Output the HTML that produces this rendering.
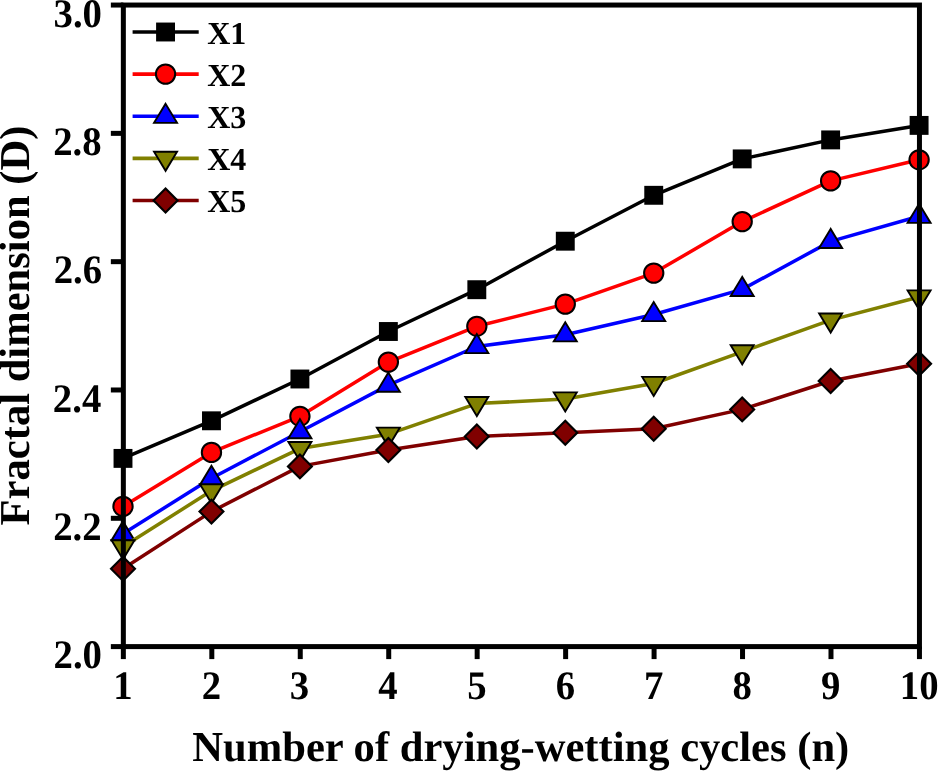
<!DOCTYPE html>
<html lang="en">
<head>
<meta charset="utf-8">
<title>Fractal dimension vs drying-wetting cycles</title>
<style>
html,body{margin:0;padding:0;background:#fff;}
body{width:938px;height:771px;overflow:hidden;}
svg{display:block;will-change:transform;}
svg text{font-family:"Liberation Serif",serif;font-weight:bold;fill:#000;text-rendering:geometricPrecision;}
.tick{font-size:40.6px;}
.lab{font-size:42.6px;}
.leg{font-size:32px;}
</style>
</head>
<body>
<svg width="938" height="771" viewBox="0 0 938 771">
<rect x="0" y="0" width="938" height="771" fill="#fff"/>
<g id="series">
<polyline points="123.00,458.40 211.46,420.80 299.91,379.00 388.37,331.50 476.82,289.70 565.28,241.20 653.73,195.30 742.19,158.90 830.64,139.90 919.10,125.40" fill="none" stroke="#000000" stroke-width="3.5" stroke-linejoin="round"/>
<rect x="113.55" y="448.95" width="18.9" height="18.9" fill="#000"/>
<rect x="202.01" y="411.35" width="18.9" height="18.9" fill="#000"/>
<rect x="290.46" y="369.55" width="18.9" height="18.9" fill="#000"/>
<rect x="378.92" y="322.05" width="18.9" height="18.9" fill="#000"/>
<rect x="467.37" y="280.25" width="18.9" height="18.9" fill="#000"/>
<rect x="555.83" y="231.75" width="18.9" height="18.9" fill="#000"/>
<rect x="644.28" y="185.85" width="18.9" height="18.9" fill="#000"/>
<rect x="732.74" y="149.45" width="18.9" height="18.9" fill="#000"/>
<rect x="821.19" y="130.45" width="18.9" height="18.9" fill="#000"/>
<rect x="909.65" y="115.95" width="18.9" height="18.9" fill="#000"/>
<polyline points="123.00,506.40 211.46,452.40 299.91,416.30 388.37,362.10 476.82,326.30 565.28,304.10 653.73,273.10 742.19,221.60 830.64,180.90 919.10,159.80" fill="none" stroke="#ff0000" stroke-width="3.5" stroke-linejoin="round"/>
<circle cx="123.00" cy="506.40" r="9.65" fill="#ff0000" stroke="#000" stroke-width="2.05"/>
<circle cx="211.46" cy="452.40" r="9.65" fill="#ff0000" stroke="#000" stroke-width="2.05"/>
<circle cx="299.91" cy="416.30" r="9.65" fill="#ff0000" stroke="#000" stroke-width="2.05"/>
<circle cx="388.37" cy="362.10" r="9.65" fill="#ff0000" stroke="#000" stroke-width="2.05"/>
<circle cx="476.82" cy="326.30" r="9.65" fill="#ff0000" stroke="#000" stroke-width="2.05"/>
<circle cx="565.28" cy="304.10" r="9.65" fill="#ff0000" stroke="#000" stroke-width="2.05"/>
<circle cx="653.73" cy="273.10" r="9.65" fill="#ff0000" stroke="#000" stroke-width="2.05"/>
<circle cx="742.19" cy="221.60" r="9.65" fill="#ff0000" stroke="#000" stroke-width="2.05"/>
<circle cx="830.64" cy="180.90" r="9.65" fill="#ff0000" stroke="#000" stroke-width="2.05"/>
<circle cx="919.10" cy="159.80" r="9.65" fill="#ff0000" stroke="#000" stroke-width="2.05"/>
<polyline points="123.00,533.80 211.46,478.30 299.91,431.70 388.37,385.10 476.82,346.50 565.28,334.80 653.73,314.50 742.19,289.40 830.64,241.40 919.10,216.30" fill="none" stroke="#0000ff" stroke-width="3.5" stroke-linejoin="round"/>
<polygon points="123.00,521.30 111.50,540.40 134.50,540.40" fill="#0000ff" stroke="#000" stroke-width="1.9" stroke-linejoin="miter"/>
<polygon points="211.46,465.80 199.96,484.90 222.96,484.90" fill="#0000ff" stroke="#000" stroke-width="1.9" stroke-linejoin="miter"/>
<polygon points="299.91,419.20 288.41,438.30 311.41,438.30" fill="#0000ff" stroke="#000" stroke-width="1.9" stroke-linejoin="miter"/>
<polygon points="388.37,372.60 376.87,391.70 399.87,391.70" fill="#0000ff" stroke="#000" stroke-width="1.9" stroke-linejoin="miter"/>
<polygon points="476.82,334.00 465.32,353.10 488.32,353.10" fill="#0000ff" stroke="#000" stroke-width="1.9" stroke-linejoin="miter"/>
<polygon points="565.28,322.30 553.78,341.40 576.78,341.40" fill="#0000ff" stroke="#000" stroke-width="1.9" stroke-linejoin="miter"/>
<polygon points="653.73,302.00 642.23,321.10 665.23,321.10" fill="#0000ff" stroke="#000" stroke-width="1.9" stroke-linejoin="miter"/>
<polygon points="742.19,276.90 730.69,296.00 753.69,296.00" fill="#0000ff" stroke="#000" stroke-width="1.9" stroke-linejoin="miter"/>
<polygon points="830.64,228.90 819.14,248.00 842.14,248.00" fill="#0000ff" stroke="#000" stroke-width="1.9" stroke-linejoin="miter"/>
<polygon points="919.10,203.80 907.60,222.90 930.60,222.90" fill="#0000ff" stroke="#000" stroke-width="1.9" stroke-linejoin="miter"/>
<polyline points="123.00,546.80 211.46,490.80 299.91,448.60 388.37,434.20 476.82,403.60 565.28,399.00 653.73,383.50 742.19,351.80 830.64,320.10 919.10,297.00" fill="none" stroke="#808000" stroke-width="3.5" stroke-linejoin="round"/>
<polygon points="123.00,559.30 111.50,540.20 134.50,540.20" fill="#808000" stroke="#000" stroke-width="1.9" stroke-linejoin="miter"/>
<polygon points="211.46,503.30 199.96,484.20 222.96,484.20" fill="#808000" stroke="#000" stroke-width="1.9" stroke-linejoin="miter"/>
<polygon points="299.91,461.10 288.41,442.00 311.41,442.00" fill="#808000" stroke="#000" stroke-width="1.9" stroke-linejoin="miter"/>
<polygon points="388.37,446.70 376.87,427.60 399.87,427.60" fill="#808000" stroke="#000" stroke-width="1.9" stroke-linejoin="miter"/>
<polygon points="476.82,416.10 465.32,397.00 488.32,397.00" fill="#808000" stroke="#000" stroke-width="1.9" stroke-linejoin="miter"/>
<polygon points="565.28,411.50 553.78,392.40 576.78,392.40" fill="#808000" stroke="#000" stroke-width="1.9" stroke-linejoin="miter"/>
<polygon points="653.73,396.00 642.23,376.90 665.23,376.90" fill="#808000" stroke="#000" stroke-width="1.9" stroke-linejoin="miter"/>
<polygon points="742.19,364.30 730.69,345.20 753.69,345.20" fill="#808000" stroke="#000" stroke-width="1.9" stroke-linejoin="miter"/>
<polygon points="830.64,332.60 819.14,313.50 842.14,313.50" fill="#808000" stroke="#000" stroke-width="1.9" stroke-linejoin="miter"/>
<polygon points="919.10,309.50 907.60,290.40 930.60,290.40" fill="#808000" stroke="#000" stroke-width="1.9" stroke-linejoin="miter"/>
<polyline points="123.00,568.70 211.46,511.60 299.91,466.40 388.37,450.00 476.82,436.50 565.28,432.70 653.73,428.80 742.19,409.40 830.64,381.00 919.10,363.70" fill="none" stroke="#800000" stroke-width="3.5" stroke-linejoin="round"/>
<polygon points="123.00,556.75 134.95,568.70 123.00,580.65 111.05,568.70" fill="#800000" stroke="#000" stroke-width="2.15" stroke-linejoin="miter"/>
<polygon points="211.46,499.65 223.41,511.60 211.46,523.55 199.51,511.60" fill="#800000" stroke="#000" stroke-width="2.15" stroke-linejoin="miter"/>
<polygon points="299.91,454.45 311.86,466.40 299.91,478.35 287.96,466.40" fill="#800000" stroke="#000" stroke-width="2.15" stroke-linejoin="miter"/>
<polygon points="388.37,438.05 400.32,450.00 388.37,461.95 376.42,450.00" fill="#800000" stroke="#000" stroke-width="2.15" stroke-linejoin="miter"/>
<polygon points="476.82,424.55 488.77,436.50 476.82,448.45 464.87,436.50" fill="#800000" stroke="#000" stroke-width="2.15" stroke-linejoin="miter"/>
<polygon points="565.28,420.75 577.23,432.70 565.28,444.65 553.33,432.70" fill="#800000" stroke="#000" stroke-width="2.15" stroke-linejoin="miter"/>
<polygon points="653.73,416.85 665.68,428.80 653.73,440.75 641.78,428.80" fill="#800000" stroke="#000" stroke-width="2.15" stroke-linejoin="miter"/>
<polygon points="742.19,397.45 754.14,409.40 742.19,421.35 730.24,409.40" fill="#800000" stroke="#000" stroke-width="2.15" stroke-linejoin="miter"/>
<polygon points="830.64,369.05 842.59,381.00 830.64,392.95 818.69,381.00" fill="#800000" stroke="#000" stroke-width="2.15" stroke-linejoin="miter"/>
<polygon points="919.10,351.75 931.05,363.70 919.10,375.65 907.15,363.70" fill="#800000" stroke="#000" stroke-width="2.15" stroke-linejoin="miter"/>
</g>
<g id="axes" stroke="#000" fill="none">
<rect x="123.35" y="5.05" width="796.10" height="641.55" stroke-width="5.0"/>
<line x1="110.85" y1="646.60" x2="123.35" y2="646.60" stroke-width="5"/>
<line x1="110.85" y1="518.29" x2="123.35" y2="518.29" stroke-width="5"/>
<line x1="110.85" y1="389.98" x2="123.35" y2="389.98" stroke-width="5"/>
<line x1="110.85" y1="261.67" x2="123.35" y2="261.67" stroke-width="5"/>
<line x1="110.85" y1="133.36" x2="123.35" y2="133.36" stroke-width="5"/>
<line x1="110.85" y1="5.05" x2="123.35" y2="5.05" stroke-width="5"/>
<line x1="123.35" y1="646.60" x2="123.35" y2="659.10" stroke-width="5"/>
<line x1="211.81" y1="646.60" x2="211.81" y2="659.10" stroke-width="5"/>
<line x1="300.26" y1="646.60" x2="300.26" y2="659.10" stroke-width="5"/>
<line x1="388.72" y1="646.60" x2="388.72" y2="659.10" stroke-width="5"/>
<line x1="477.17" y1="646.60" x2="477.17" y2="659.10" stroke-width="5"/>
<line x1="565.63" y1="646.60" x2="565.63" y2="659.10" stroke-width="5"/>
<line x1="654.08" y1="646.60" x2="654.08" y2="659.10" stroke-width="5"/>
<line x1="742.54" y1="646.60" x2="742.54" y2="659.10" stroke-width="5"/>
<line x1="830.99" y1="646.60" x2="830.99" y2="659.10" stroke-width="5"/>
<line x1="919.45" y1="646.60" x2="919.45" y2="659.10" stroke-width="5"/>
</g>
<g id="ticklabels" class="tick">
<text transform="translate(102.00 668) scale(0.955 1.0)" text-anchor="end">2.0</text>
<text transform="translate(101.60 540) scale(0.955 1.0)" text-anchor="end">2.2</text>
<text transform="translate(101.30 412) scale(0.955 1.0)" text-anchor="end">2.4</text>
<text transform="translate(102.15 283) scale(0.955 1.0)" text-anchor="end">2.6</text>
<text transform="translate(101.70 155) scale(0.955 1.0)" text-anchor="end">2.8</text>
<text transform="translate(102.00 27) scale(0.955 1.0)" text-anchor="end">3.0</text>
<text transform="translate(123.05 699) scale(0.955 1.0)" text-anchor="middle">1</text>
<text transform="translate(211.51 699) scale(0.955 1.0)" text-anchor="middle">2</text>
<text transform="translate(299.36 699) scale(0.955 1.0)" text-anchor="middle">3</text>
<text transform="translate(388.02 699) scale(0.955 1.0)" text-anchor="middle">4</text>
<text transform="translate(476.87 699) scale(0.955 1.0)" text-anchor="middle">5</text>
<text transform="translate(565.33 699) scale(0.955 1.0)" text-anchor="middle">6</text>
<text transform="translate(653.78 699) scale(0.955 1.0)" text-anchor="middle">7</text>
<text transform="translate(742.24 699) scale(0.955 1.0)" text-anchor="middle">8</text>
<text transform="translate(830.69 699) scale(0.955 1.0)" text-anchor="middle">9</text>
<text transform="translate(919.15 699) scale(0.955 1.0)" text-anchor="middle">10</text>
</g>
<text class="lab" x="520.8" y="760.8" text-anchor="middle">Number of drying-wetting cycles (n)</text>
<text class="lab" transform="translate(28.9 325.5) rotate(-90)" text-anchor="middle">Fractal dimension (D)</text>
<g id="legend">
<line x1="132.6" y1="32.00" x2="198.7" y2="32.00" stroke="#000000" stroke-width="3.6"/>
<rect x="156.10" y="22.55" width="18.9" height="18.9" fill="#000"/>
<text class="leg" x="207.2" y="43.90">X1</text>
<line x1="132.6" y1="74.12" x2="198.7" y2="74.12" stroke="#ff0000" stroke-width="3.6"/>
<circle cx="165.55" cy="74.12" r="9.65" fill="#ff0000" stroke="#000" stroke-width="2.05"/>
<text class="leg" x="207.2" y="86.02">X2</text>
<line x1="132.6" y1="116.24" x2="198.7" y2="116.24" stroke="#0000ff" stroke-width="3.6"/>
<polygon points="165.55,103.74 154.05,122.84 177.05,122.84" fill="#0000ff" stroke="#000" stroke-width="1.9" stroke-linejoin="miter"/>
<text class="leg" x="207.2" y="128.14">X3</text>
<line x1="132.6" y1="158.36" x2="198.7" y2="158.36" stroke="#808000" stroke-width="3.6"/>
<polygon points="165.55,170.86 154.05,151.76 177.05,151.76" fill="#808000" stroke="#000" stroke-width="1.9" stroke-linejoin="miter"/>
<text class="leg" x="207.2" y="170.26">X4</text>
<line x1="132.6" y1="200.48" x2="198.7" y2="200.48" stroke="#800000" stroke-width="3.6"/>
<polygon points="165.55,188.53 177.50,200.48 165.55,212.43 153.60,200.48" fill="#800000" stroke="#000" stroke-width="2.15" stroke-linejoin="miter"/>
<text class="leg" x="207.2" y="212.38">X5</text>
</g>
</svg>
</body>
</html>
